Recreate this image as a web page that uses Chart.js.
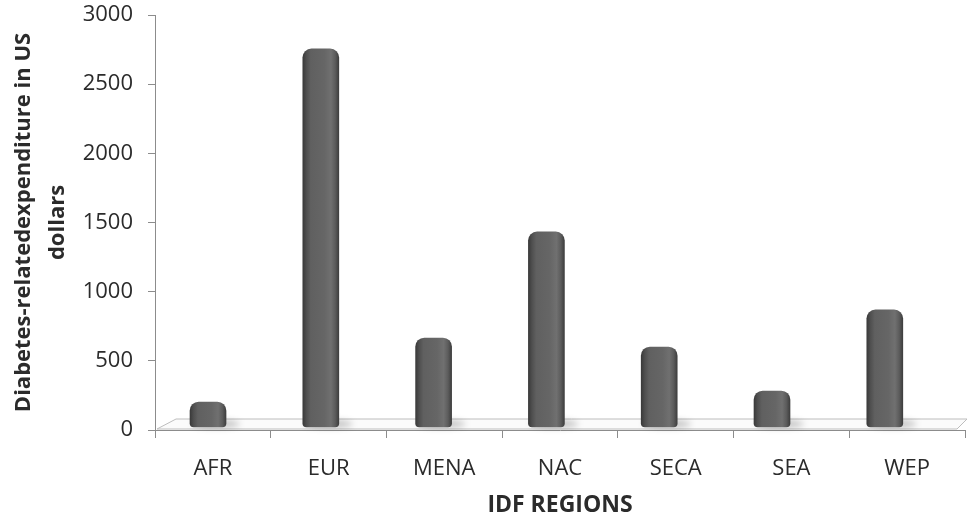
<!DOCTYPE html>
<html>
<head>
<meta charset="utf-8">
<script src="https://cdn.jsdelivr.net/npm/chart.js@4/dist/chart.umd.min.js"></script>
<style>
  html, body { margin: 0; padding: 0; background: #ffffff; }
  #wrap { width: 967px; height: 517px; }
</style>
</head>
<body>
<div id="wrap"><canvas id="c" width="967" height="517"></canvas></div>
<script>
// IDF regions and diabetes-related expenditure (US dollars)
const categories = ['AFR', 'EUR', 'MENA', 'NAC', 'SECA', 'SEA', 'WEP'];
const expenditure = [137, 2690, 600, 1367, 535, 217, 803];
const yTickValues = [0, 500, 1000, 1500, 2000, 2500, 3000];
const yAxisTitle = ['Diabetes-relatedexpenditure in US', 'dollars'];
const xAxisTitle = 'IDF REGIONS';

const FONT = '"Open Sans", Lato, sans-serif';
const TEXT = '#2b2b2b';
const AXIS = '#8c8c8c';

// Cylinder shading across the width of each column
function cylinderFill(ctx) {
  const chart = ctx.chart;
  const xs = chart.scales.xb;
  if (!xs || !ctx.raw) return '#606060';
  const cx = xs.getPixelForValue(ctx.raw.x);
  if (!isFinite(cx)) return '#606060';
  const half = 18;
  const g = chart.ctx.createLinearGradient(cx - half, 0, cx + half, 0);
  g.addColorStop(0.00, '#3a3a3a');
  g.addColorStop(0.10, '#4f4f4f');
  g.addColorStop(0.22, '#606060');
  g.addColorStop(0.60, '#666666');
  g.addColorStop(0.78, '#707070');
  g.addColorStop(0.90, '#5c5c5c');
  g.addColorStop(1.00, '#3e3e3e');
  return g;
}

// Floor plane under the columns, with a soft shadow at each column foot
const floorPlugin = {
  id: 'floor',
  beforeDatasetsDraw(chart) {
    const { ctx, chartArea } = chart;
    const b = chartArea.bottom;
    ctx.save();
    ctx.beginPath();
    ctx.moveTo(chartArea.left + 2, b - 1);
    ctx.lineTo(chartArea.left + 21, b - 11);
    ctx.lineTo(chartArea.right + 2, b - 11);
    ctx.lineTo(chartArea.right - 8, b - 1);
    ctx.closePath();
    ctx.fillStyle = '#fbfbfb';
    ctx.fill();
    ctx.strokeStyle = '#bdbdbd';
    ctx.lineWidth = 1;
    ctx.stroke();

    ctx.filter = 'blur(3px)';
    ctx.fillStyle = 'rgba(0,0,0,0.22)';
    chart.getDatasetMeta(0).data.forEach(el => {
      ctx.beginPath();
      ctx.ellipse(el.x + 8, el.base - 3, el.width / 2 + 6, 4, 0, 0, Math.PI * 2);
      ctx.fill();
    });
    ctx.restore();
  }
};

new Chart(document.getElementById('c'), {
  type: 'bar',
  data: {
    labels: categories,
    datasets: [{
      data: expenditure.map((v, i) => ({ x: i, y: v })),
      xAxisID: 'xb',
      yAxisID: 'yb',
      base: -43,
      barThickness: 36,
      backgroundColor: cylinderFill,
      borderWidth: 0,
      borderSkipped: false,
      borderRadius: { topLeft: 9, topRight: 9, bottomLeft: 4, bottomRight: 4 }
    }]
  },
  options: {
    responsive: false,
    devicePixelRatio: 1,
    animation: false,
    layout: { padding: { top: 15, right: 2, left: 0, bottom: 0 } },
    plugins: { legend: { display: false }, tooltip: { enabled: false } },
    scales: {
      x: {
        type: 'category',
        position: 'bottom',
        offset: true,
        grid: { offset: true, drawOnChartArea: false, tickLength: 8, color: AXIS },
        border: { color: AXIS },
        ticks: { font: { family: FONT, size: 22 }, color: TEXT, padding: 18 },
        title: {
          display: true, text: xAxisTitle, color: TEXT,
          font: { family: FONT, size: 23, weight: 'bold' }, padding: { bottom: -2 }
        },
        afterFit(s) { s.height = 87; s.paddingLeft = 0; s.paddingRight = 0; }
      },
      y: {
        type: 'linear',
        position: 'left',
        min: 0,
        max: 3000,
        afterBuildTicks(s) { s.ticks = yTickValues.map(v => ({ value: v })); },
        grid: { drawOnChartArea: false, tickLength: 7, color: AXIS },
        border: { color: AXIS },
        ticks: {
          font: { family: FONT, size: 22 }, color: TEXT, padding: 15,
          callback: v => String(v)
        },
        title: {
          display: true, text: yAxisTitle, color: TEXT,
          font: { family: FONT, size: 22, weight: 'bold', lineHeight: 1.55 },
          padding: { top: 7 }
        },
        afterFit(s) { s.width = 155; s.paddingTop = 0; s.paddingBottom = 0; }
      },
      xb: { type: 'linear', display: false, offset: false, min: -0.47, max: 6.711 },
      yb: { type: 'linear', display: false, min: -65, max: 2935 }
    }
  },
  plugins: [floorPlugin]
});
</script>
</body>
</html>
